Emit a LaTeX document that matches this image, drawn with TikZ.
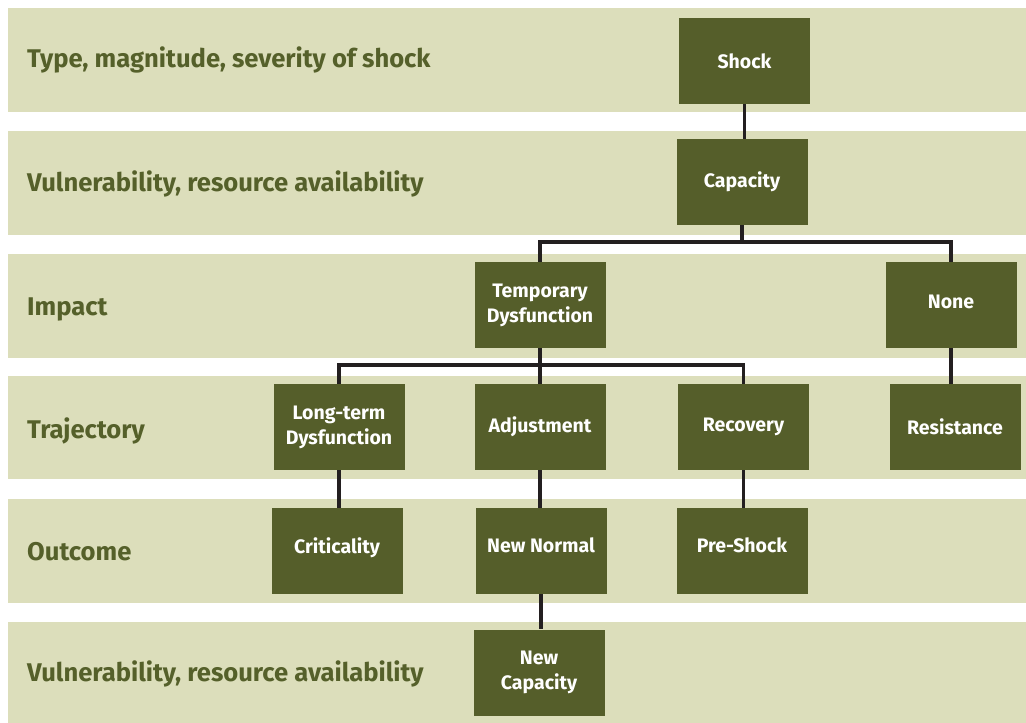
\documentclass[tikz,border=0pt]{standalone}
\usepackage{fontspec}
\setmainfont{Fira Sans}
\definecolor{bandfill}{HTML}{DCDEBB}
\definecolor{boxfill}{HTML}{555E2A}
\definecolor{labeltext}{HTML}{55602A}
\definecolor{linkcol}{HTML}{231F20}
\begin{document}
\begin{tikzpicture}[x=1pt,y=-1pt,
  band/.style={fill=bandfill,draw=none},
  rowlabel/.style={anchor=base west,inner sep=0pt,text=labeltext,font=\fontsize{25.6}{30}\selectfont\bfseries},
  stage/.style={rectangle,fill=boxfill,draw=none,minimum width=131pt,minimum height=86pt,
    inner sep=0pt,align=center,text=white,font=\fontsize{19.5}{25}\selectfont\bfseries},
  raised/.style={text depth=#1},
  link/.style={draw=linkcol,line width=3.4pt,line join=miter}]
\useasboundingbox (0,0) rectangle (1026,723);
% horizontal bands
\fill[band] (8,8) rectangle (1026,112);
\fill[band] (8,131) rectangle (1026,235);
\fill[band] (8,254) rectangle (1026,358);
\fill[band] (8,376) rectangle (1026,479);
\fill[band] (8,499) rectangle (1026,603);
\fill[band] (8,622) rectangle (1026,723);
% row labels (placed on their baselines)
\node[rowlabel] (l1) at (27,67) {Type, magnitude, severity of shock};
\node[rowlabel] (l2) at (27,191) {Vulnerability, resource availability};
\node[rowlabel] (l3) at (27,315) {Impact};
\node[rowlabel] (l4) at (27,438.5) {Trajectory};
\node[rowlabel] (l5) at (27,560) {Outcome};
\node[rowlabel] (l6) at (27,681) {Vulnerability, resource availability};
% stages
\node[stage] (shock) at (744.5,61) {Shock};
\node[stage] (cap) at (742,182) {Capacity};
\node[stage] (temp) at (540,305) {Temporary\\Dysfunction};
\node[stage,raised=6pt] (none) at (951,305) {None};
\node[stage] (long) at (339,427) {Long-term\\Dysfunction};
\node[stage] (adj) at (540,427) {Adjustment};
\node[stage] (rec) at (743.5,427) {Recovery};
\node[stage] (res) at (955,427) {Resistance};
\node[stage,raised=11pt] (crit) at (337,551) {Criticality};
\node[stage,raised=11pt] (nn) at (541,551) {New Normal};
\node[stage,raised=11pt] (pre) at (742,551) {Pre-Shock};
\node[stage] (ncap) at (539,672.5) {New\\Capacity};
% branch points
\coordinate (b1) at (742,242);
\coordinate (b2) at (540,365);
% connectors
\draw[link] (shock.south) -- (shock.south |- cap.north);
\draw[link] (cap.south) -- (b1);
\draw[link] (temp.north) |- (b1) -| (none.north);
\draw[link] (temp.south) -- (b2);
\draw[link] (long.north) |- (b2) -| (rec.north);
\draw[link] (b2) -- (adj.north);
\draw[link] (none.south) -- (none.south |- res.north);
\draw[link] (long.south) -- (long.south |- crit.north);
\draw[link] (adj.south) -- (adj.south |- nn.north);
\draw[link] (rec.south) -- (rec.south |- pre.north);
\draw[link] (nn.south) -- (nn.south |- ncap.north);
\end{tikzpicture}
\end{document}
